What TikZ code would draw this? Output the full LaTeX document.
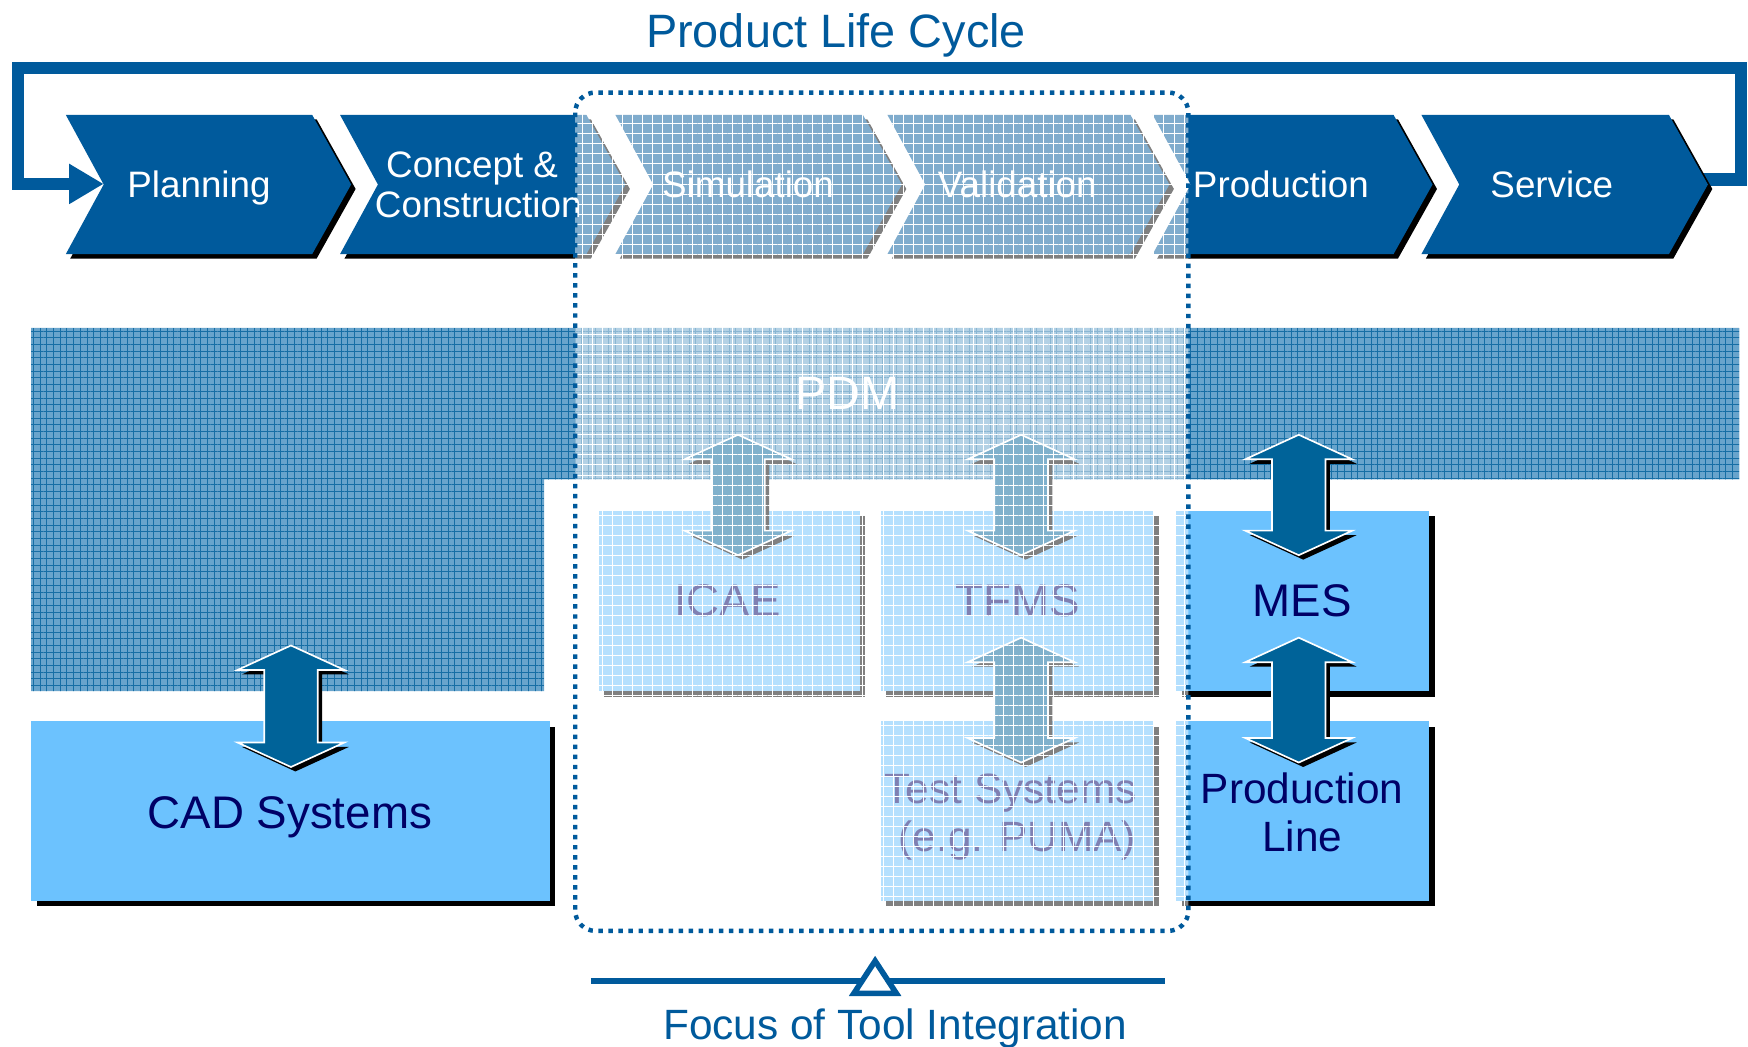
\documentclass[tikz,border=0pt]{standalone}
\usepackage{fontspec}
\setmainfont{Liberation Sans}
\usetikzlibrary{arrows.meta,patterns.meta}
\definecolor{plcblue}{RGB}{0,90,156}
\definecolor{arrblue}{RGB}{0,99,153}
\definecolor{lightbox}{RGB}{108,194,254}
\definecolor{navytxt}{RGB}{0,0,102}
\definecolor{pdmbase}{RGB}{104,164,204}
\definecolor{pdmline}{RGB}{22,110,165}
\newcommand\chevshape[3]{%
 \path[#1] (#2,103) -- (#2+#3,103) -- (#2+#3+35,165.5) -- (#2+#3,228) -- (#2,228) -- (#2+34,165.5) -- cycle;}
\newcommand\plcchev[2]{\chevshape{fill=black,shift={(4,4)}}{#1}{#2}\chevshape{fill=plcblue}{#1}{#2}}
\newcommand\arrshape[4]{%
 \path[#1] (#2,#3) -- (#2+48,#3+22) -- (#2+24,#3+22) -- (#2+24,#4-22) -- (#2+48,#4-22) -- (#2,#4) -- (#2-48,#4-22) -- (#2-24,#4-22) -- (#2-24,#3+22) -- (#2-48,#3+22) -- cycle;}
\newcommand\dblarrow[3]{\arrshape{fill=black,shift={(4,4)}}{#1}{#2}{#3}\arrshape{fill=arrblue,draw=white,line width=1.5,line join=miter}{#1}{#2}{#3}}
\newcommand\shbox[5]{%
 \fill[black] (#2+5,#3+5) rectangle (#4+5,#5+5);
 \node[fill=lightbox,inner sep=0,outer sep=0,minimum width=#4-#2,minimum height=#5-#3,anchor=north west] (#1) at (#2,#3) {};}
\begin{document}
\begin{tikzpicture}[x=1pt,y=-1pt,
  chevtxt/.style={text=white,anchor=base,inner sep=0,font=\fontsize{33}{36}\selectfont},
  boxtxt/.style={text=navytxt,anchor=base,inner sep=0,font=\fontsize{41}{48}\selectfont},
  boxtxtb/.style={text=navytxt,anchor=base,inner sep=0,font=\fontsize{38}{43}\selectfont},
  bluetxt/.style={text=plcblue,anchor=base,inner sep=0},
  loopline/.style={draw=plcblue,line width=11,line join=miter}]
\useasboundingbox (0,0) rectangle (1568,939);
\fill[white] (0,0) rectangle (1568,939);

% title
\node[bluetxt,font=\fontsize{42}{48}\selectfont] (title) at (750,43) {Product Life Cycle};

% life cycle loop
\coordinate (loopstart) at (1528,161);
\coordinate (loopend) at (93,165);
\draw[loopline,-{Triangle[length=31pt,width=34pt]}] (loopstart) -- (1562,161) -- (1562,61) -- (16,61) -- (16,165) -- (loopend);

% chevrons
\plcchev{59}{221}
\plcchev{305}{221}
\plcchev{552}{222}
\plcchev{796}{218}
\plcchev{1034}{216}
\plcchev{1275}{222}
\node[chevtxt] (planning) at (178.5,177) {Planning};
\node[chevtxt] (concept) at (423.5,159) {Concept \&};
\node[chevtxt] (construction) at (429,195) {Construction};
\node[chevtxt] (simulation) at (671,177) {Simulation};
\node[chevtxt] (validation) at (912.5,177) {Validation};
\node[chevtxt] (production) at (1149,177) {Production};
\node[chevtxt] (service) at (1392,177) {Service};

% PDM band
\path[fill=pdmbase] (28,294) -- (1560,294) -- (1560,430) -- (488,430) -- (488,620) -- (28,620) -- cycle;
\path[pattern={Lines[distance=6pt,angle=0,line width=0.8pt]},pattern color=pdmline] (28,294) -- (1560,294) -- (1560,430) -- (488,430) -- (488,620) -- (28,620) -- cycle;
\path[pattern={Lines[distance=6pt,angle=90,line width=0.8pt]},pattern color=pdmline] (28,294) -- (1560,294) -- (1560,430) -- (488,430) -- (488,620) -- (28,620) -- cycle;
\node[text=white,anchor=base,inner sep=0,font=\fontsize{42}{48}\selectfont] (pdm) at (760,367) {PDM};

% boxes
\shbox{cad}{28}{647}{493}{808}
\shbox{icae}{537}{458}{771}{620}
\shbox{tfms}{790}{458}{1035}{620}
\shbox{test}{790}{647}{1035}{808}
\shbox{mes}{1055}{458}{1282}{620}
\shbox{pline}{1055}{647}{1282}{808}
\node[boxtxt] (cadtxt) at (260,743) {CAD Systems};
\node[boxtxt] (icaetxt) at (652.5,553) {ICAE};
\node[boxtxt] (tfmstxt) at (913,553) {TFMS};
\node[boxtxt] (mestxt) at (1168,553) {MES};
\node[boxtxtb] (testtxt) at (906.5,721) {Test Systems};
\node[boxtxtb] (pumatxt) at (912.5,764) {(e.g. PUMA)};
\node[boxtxtb] (plinetxt) at (1168,721) {Production};
\node[boxtxtb] (plinetxtb) at (1168,764) {Line};

% double arrows
\dblarrow{261}{579}{688}
\dblarrow{662}{390}{498}
\dblarrow{916}{390}{498}
\dblarrow{1165}{390}{498}
\dblarrow{916}{572}{684}
\dblarrow{1165}{572}{684}

% focus overlay
\fill[white,fill opacity=0.5,rounded corners=18] (516,83) rectangle (1066,835);
\fill[pattern={Lines[distance=9pt,angle=0,line width=0.7pt]},pattern color=white,fill opacity=0.55,rounded corners=18] (516,83) rectangle (1066,835);
\fill[pattern={Lines[distance=9pt,angle=90,line width=0.7pt]},pattern color=white,fill opacity=0.55,rounded corners=18] (516,83) rectangle (1066,835);
\draw[plcblue,line width=4,dash pattern=on 4pt off 5pt,rounded corners=18] (516,83) rectangle (1066,835);

% focus marker
\coordinate (fl) at (530,880);
\coordinate (fr) at (1045,880);
\draw[plcblue,line width=5] (fl) -- (fr);
\draw[plcblue,line width=5,fill=white,line join=miter] (785,862) -- (804,891) -- (766,891) -- cycle;
\node[bluetxt,font=\fontsize{38}{44}\selectfont] (focus) at (803,932) {Focus of Tool Integration};
\end{tikzpicture}
\end{document}
